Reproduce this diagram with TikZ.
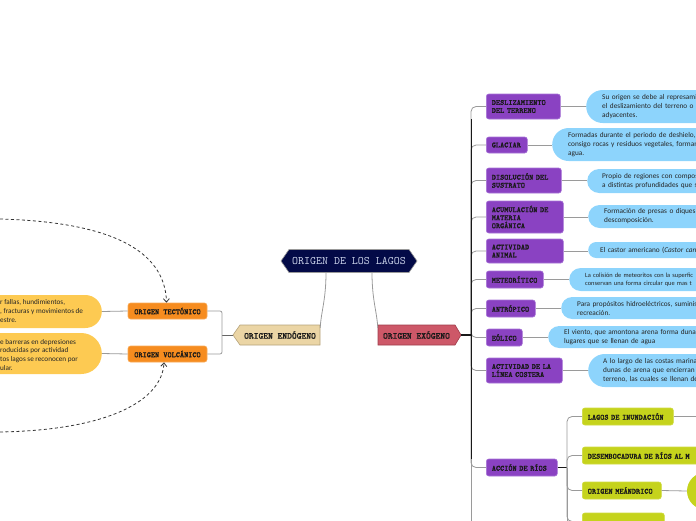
\documentclass[tikz,border=0pt]{standalone}
\usepackage{fontspec}
\setmainfont{Carlito}
\newfontfamily\boxmono{lmmono10-regular.otf}
\newfontfamily\boxmonob{lmmonolt10-bold.otf}[FakeBold=1.3]
\usetikzlibrary{arrows.meta}
\definecolor{navy}{HTML}{030A47}
\definecolor{rootfg}{HTML}{C8D0E8}
\definecolor{tanf}{HTML}{EBD5A5}
\definecolor{tanb}{HTML}{B5A27A}
\definecolor{exof}{HTML}{CD5868}
\definecolor{exob}{HTML}{9E3C4A}
\definecolor{orng}{HTML}{F68C1F}
\definecolor{ylw}{HTML}{FDCA52}
\definecolor{purp}{HTML}{8A42C2}
\definecolor{purpb}{HTML}{A774D6}
\definecolor{sky}{HTML}{8DD4FC}
\definecolor{lime}{HTML}{C5D31C}
\definecolor{lgray}{HTML}{9A9A9A}
\tikzset{
  conn/.style={draw=lgray, line width=0.8pt},
  boxtext/.style={font=\boxmonob\fontsize{7.9}{8}\selectfont, text=black!90, align=left,
    inner ysep=0pt, inner xsep=5.5pt, anchor=west, rounded corners=2.5pt, line width=0.6pt},
  pbox/.style={boxtext, fill=purp, draw=purpb},
  rbox/.style={boxtext, fill=lime, draw=lime!85!white},
  obox/.style={boxtext, fill=orng, draw=orng!75!white, align=center, anchor=center},
  bubble/.style={fill=sky, draw=none, anchor=west, align=left, text width=200pt,
    font=\fontsize{7.3}{9}\selectfont, text=black!85, inner ysep=0pt},
  ybub/.style={fill=ylw, draw=none, anchor=east, minimum width=150pt, inner sep=0pt},
  ytext/.style={anchor=west, align=left, inner sep=0pt, text=black!85,
    font=\fontsize{7.2}{8.8}\selectfont},
  headtext/.style={inner sep=0pt, font=\boxmonob\fontsize{9.1}{10}\selectfont, text=black!90},
  dasharrow/.style={draw=black!80, line width=0.8pt, dash pattern=on 3pt off 2.5pt,
    -{Straight Barb[length=3.5pt,width=6pt]}},
}
\begin{document}
\begin{tikzpicture}[x=1pt,y=-1pt]
\useasboundingbox (0,0) rectangle (696,520);
\clip (0,0) rectangle (696,520);

% shapes of the three main nodes
\filldraw[fill=navy, draw=gray!80, line width=0.6pt]
  (281,261) -- (289,249.5) -- (409,249.5) -- (417,261) -- (409,272.5) -- (289,272.5) -- cycle;
\filldraw[fill=tanf, draw=tanb, line width=0.6pt]
  (233,335) -- (240,325) -- (320,325) -- (320,345) -- (240,345) -- cycle;
\filldraw[fill=exof, draw=exob, line width=0.6pt]
  (378,325) -- (455,325) -- (461,335) -- (455,345) -- (378,345) -- cycle;

\node[inner sep=0pt, minimum width=120pt, minimum height=23pt,
  font=\boxmono\fontsize{11.4}{12}\selectfont, text=rootfg] (root) at (349,261) {ORIGEN DE LOS LAGOS};
\node[headtext, minimum width=80pt, minimum height=20pt] (endo) at (280,335) {ORIGEN ENDÓGENO};
\node[headtext, minimum width=77pt, minimum height=20pt] (exo) at (416.5,335) {ORIGEN EXÓGENO};

% endogenous side
\node[obox, minimum width=79pt, minimum height=16pt] (tect) at (167.5,311) {ORIGEN TECTÓNICO};
\node[obox, minimum width=79pt, minimum height=16pt] (volc) at (167.5,354) {ORIGEN VOLCÁNICO};
\node[ybub, minimum height=33pt, rounded corners=16.5pt] (y1) at (102,311.5) {};
\node[ybub, minimum height=41pt, rounded corners=20.5pt] (y2) at (102,353.5) {};
\node[ytext] (y1t) at (0,311.3) {r fallas, hundimientos,\\, fracturas y movimientos de\\estre.};
\node[ytext] (y2t) at (0,354.8) {e barreras en depresiones\\roducidas por actividad\\tos lagos se reconocen por\\ular.};

% exogenous side: purple boxes
\node[pbox, text width=63pt, minimum height=25pt] (desl) at (486,106.5) {DESLIZAMIENTO\\DEL TERRENO};
\node[pbox, text width=30pt, minimum height=16pt] (glac) at (486,145) {GLACIAR};
\node[pbox, text width=64pt, minimum height=25pt] (disol) at (486,180.5) {DISOLUCIÓN DEL\\SUSTRATO};
\node[pbox, text width=66pt, minimum height=32pt] (acum) at (486,217) {ACUMULACIÓN DE\\MATERIA\\ORGÁNICA};
\node[pbox, text width=66pt, minimum height=24pt] (anim) at (486,251) {ACTIVIDAD\\ANIMAL};
\node[pbox, text width=46pt, minimum height=17pt] (meteo) at (486,279.5) {METEORÍTICO};
\node[pbox, text width=38pt, minimum height=17pt] (antro) at (486,308.5) {ANTRÓPICO};
\node[pbox, text width=25pt, minimum height=17pt] (eol) at (486,337.5) {EÓLICO};
\node[pbox, text width=65pt, minimum height=25pt] (costa) at (486,370.5) {ACTIVIDAD DE LA\\LÍNEA COSTERA};
\node[pbox, text width=60pt, minimum height=17pt] (rios) at (486,467.5) {ACCIÓN DE RÍOS};

% blue bubbles
\node[bubble, minimum height=33pt, rounded corners=16.5pt, inner xsep=16pt] (b1) at (586,106.5)
  {Su origen se debe al represamie\\el deslizamiento del terreno o de\\adyacentes.};
\node[bubble, minimum height=33pt, rounded corners=16.5pt, inner xsep=16pt] (b2) at (552,144.5)
  {Formadas durante el periodo de deshielo, a\\consigo rocas y residuos vegetales, forman\\agua.};
\node[bubble, minimum height=24pt, rounded corners=12pt, inner xsep=15pt] (b3) at (587,181)
  {Propio de regiones con compos\\a distintas profundidades que s};
\node[bubble, minimum height=23pt, rounded corners=11.5pt, inner xsep=16pt] (b4) at (588,216.5)
  {Formación de presas o diques p\\descomposición.};
\node[bubble, minimum height=16pt, rounded corners=8pt, inner xsep=12pt] (b5) at (588,250)
  {El castor americano (\textit{Castor cana}};
\node[bubble, minimum height=23pt, rounded corners=11.5pt, inner xsep=16pt,
  font=\fontsize{6.4}{8.2}\selectfont] (b6) at (569,279.5)
  {La colisión de meteoritos con la superfic\\conservan una forma circular que mas t};
\node[bubble, minimum height=22pt, rounded corners=11pt, inner xsep=16pt] (b7) at (561,308)
  {Para propósitos hidroeléctricos, suminis\\recreación.};
\node[bubble, minimum height=22pt, rounded corners=11pt, inner xsep=16pt] (b8) at (548,337)
  {El viento, que amontona arena forma dunas\\lugares que se llenan de agua};
\node[bubble, minimum height=33pt, rounded corners=16.5pt, inner xsep=15pt] (b9) at (588,370.5)
  {A lo largo de las costas marinas, el\\dunas de arena que encierran p\\terreno, las cuales se llenan de a};

% river boxes
\node[rbox, text width=80pt, minimum height=17pt] (lagos) at (582,416.5) {LAGOS DE INUNDACIÓN};
\node[rbox, text width=140pt, minimum height=17pt] (desemb) at (582,455.5) {DESEMBOCADURA DE RÍOS AL M};
\node[rbox, text width=68pt, minimum height=17pt] (meand) at (582,490.5) {ORIGEN MEÁNDRICO};
\node[rbox, text width=71pt, minimum height=17pt] (rbot) at (582,521.5) {};
\node[circle, fill=lime, minimum size=37pt, inner sep=0pt] (circ1) at (705.5,491) {};
\node[circle, fill=lime, minimum size=44pt, inner sep=0pt] (circ2) at (714,537) {};

% helper coordinates
\coordinate (ej) at (222,335);
\coordinate (jx) at (471,335);
\coordinate (rj) at (567,467.5);
\coordinate (trunkEnd) at (471,530);
\coordinate (riverEnd) at (567,530);
\coordinate (lagosEnd) at (720,416.5);
\coordinate (arcTop) at (0,219);
\coordinate (arcBot) at (0,432);

% root connectors
\draw[conn] ([xshift=-23pt]root.south) .. controls (326,300) and (321,312) .. ([yshift=-3pt]endo.north east);
\draw[conn] ([xshift=23pt]root.south) .. controls (372,300) and (377,312) .. ([yshift=-3pt]exo.north west);

% endogenous connectors
\draw[draw=black!60, line width=0.9pt] ([xshift=-7pt]endo.west) -- (ej);
\draw[conn, rounded corners=2pt] (ej) |- (tect.east);
\draw[conn, rounded corners=2pt] (ej) |- (volc.east);
\draw[conn] (tect.west) -- (y1.east);
\draw[conn] (volc.west) -- (y2.east);

% dashed arrows
\draw[dasharrow] (arcTop) .. controls (110,222) and (165,250) .. ([xshift=-1pt]tect.north);
\draw[dasharrow] (arcBot) .. controls (110,430) and (162,400) .. ([xshift=-3.5pt]volc.south);

% exogenous trunk and branches
\foreach \b in {desl,glac,disol,acum,anim,meteo,antro,eol,costa,rios}
  \draw[conn, rounded corners=5pt] (jx) |- (\b.west);
\draw[conn] (jx) -- (trunkEnd);
\draw[draw=black!90, line width=1pt] (jx |- desl.south) -- (jx |- rios.north);
\draw[draw=black!90, line width=1.2pt] ([xshift=6pt]exo.east) -- (jx);

% box to bubble links
\draw[conn] (desl.east) -- (desl.east -| b1.west);
\draw[conn] (glac.east) -- (glac.east -| b2.west);
\draw[conn] (disol.east) -- (disol.east -| b3.west);
\draw[conn] (acum.east) -- (acum.east -| b4.west);
\draw[conn] (anim.east) -- (anim.east -| b5.west);
\draw[conn] (meteo.east) -- (meteo.east -| b6.west);
\draw[conn] (antro.east) -- (antro.east -| b7.west);
\draw[conn] (eol.east) -- (eol.east -| b8.west);
\draw[conn] (costa.east) -- (costa.east -| b9.west);

% rivers
\draw[draw=black!90, line width=1pt] (rios.east) -- (rj);
\foreach \b in {lagos,desemb,meand,rbot}
  \draw[conn, rounded corners=5pt] (rj) |- (\b.west);
\draw[conn] (rj) -- (riverEnd);
\draw[conn] (lagos.east) -- (lagosEnd);
\draw[conn] (meand.east) -- (circ1.west);
\end{tikzpicture}
\end{document}
